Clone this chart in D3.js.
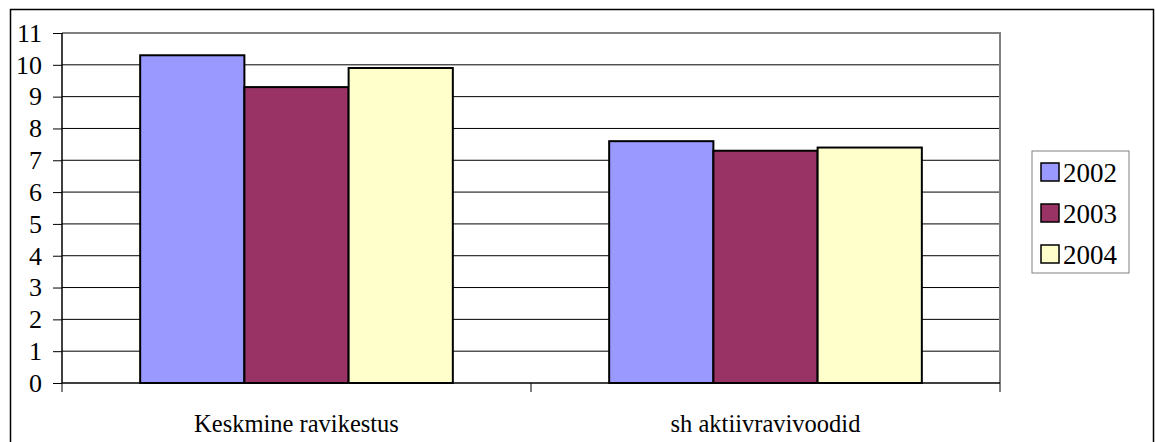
<!DOCTYPE html>
<html>
<head>
<meta charset="utf-8">
<script src="https://cdn.jsdelivr.net/npm/d3@7"></script>
<style>
  body { margin: 0; background: #fff; }
  svg text { font-family: "Liberation Serif", serif; }
</style>
</head>
<body>
<svg id="chart" width="1155" height="442"></svg>
<script>
const categories = ["Keskmine ravikestus", "sh aktiivravivoodid"];
const years = ["2002", "2003", "2004"];
const values2002 = [10.3, 7.6];
const values2003 = [9.3, 7.3];
const values2004 = [9.9, 7.4];
const colors = ["#9999FF", "#993366", "#FFFFCC"];
const yTicks = d3.range(0, 12);

const series = [values2002, values2003, values2004];

const svg = d3.select("#chart");
const margin = { top: 33, right: 155, bottom: 59, left: 62 };
const w = 1155 - margin.left - margin.right;
const h = 442 - margin.top - margin.bottom;

// outer frame
svg.append("rect")
    .attr("x", 10.5).attr("y", 9.5)
    .attr("width", 1143).attr("height", 445)
    .attr("fill", "none").attr("stroke", "#000").attr("stroke-width", 1.5);

const chart = svg.append("g")
    .attr("transform", `translate(${margin.left},${margin.top})`);

const x0 = d3.scaleBand().domain(categories).range([0, w]);
const x1 = d3.scaleBand().domain(years)
    .range([x0.bandwidth() / 6, x0.bandwidth() * 5 / 6]);
const y = d3.scaleLinear().domain([0, 11]).range([h, 0]);

// gridlines
chart.selectAll(".grid")
    .data(yTicks.filter(d => d > 0 && d < 11))
    .enter().append("line")
    .attr("x1", 0).attr("x2", w)
    .attr("y1", d => y(d)).attr("y2", d => y(d))
    .attr("stroke", "#000").attr("stroke-width", 1);

// plot area border (top and right)
chart.append("path")
    .attr("d", `M0,${y(11)}H${w}V${h}`)
    .attr("fill", "none").attr("stroke", "#808080").attr("stroke-width", 2);

// bars
chart.selectAll(".group")
    .data(categories)
    .enter().append("g")
    .attr("transform", d => `translate(${x0(d)},0)`)
    .selectAll("rect")
    .data((d, i) => years.map((yr, j) => ({ yr, v: series[j][i], c: colors[j] })))
    .enter().append("rect")
    .attr("x", d => x1(d.yr))
    .attr("width", x1.bandwidth())
    .attr("y", d => y(d.v))
    .attr("height", d => h - y(d.v))
    .attr("fill", d => d.c)
    .attr("stroke", "#000").attr("stroke-width", 2);

// y axis
const yAxis = chart.append("g")
    .call(d3.axisLeft(y).tickValues(yTicks).tickSize(9).tickPadding(11).tickFormat(d3.format("d")));
yAxis.attr("font-family", null).attr("font-size", 26);
yAxis.select(".domain").attr("stroke", "#000").attr("stroke-width", 1.5).attr("d", `M0,${h}V0`);
yAxis.selectAll(".tick line").attr("stroke", "#000");
yAxis.selectAll("text").attr("fill", "#000");

// x axis
const xAxis = chart.append("g").attr("transform", `translate(0,${h})`);
xAxis.append("line").attr("x1", 0).attr("x2", w).attr("stroke", "#000").attr("stroke-width", 1.5);
xAxis.selectAll(".xt")
    .data([0, x0.bandwidth(), w])
    .enter().append("line")
    .attr("x1", d => d).attr("x2", d => d)
    .attr("y1", 0).attr("y2", 9)
    .attr("stroke", "#000");
xAxis.selectAll(".xl")
    .data(categories)
    .enter().append("text")
    .attr("x", d => x0(d) + x0.bandwidth() / 2)
    .attr("y", 49)
    .attr("text-anchor", "middle")
    .attr("font-size", 24.5)
    .text(d => d);

// legend
const legend = svg.append("g").attr("transform", "translate(1032,151)");
legend.append("rect")
    .attr("width", 97).attr("height", 122)
    .attr("fill", "#fff").attr("stroke", "#808080").attr("stroke-width", 1);
const li = legend.selectAll(".li")
    .data(years)
    .enter().append("g")
    .attr("transform", (d, i) => `translate(9,${21 + i * 41})`);
li.append("rect")
    .attr("x", 0).attr("y", -9)
    .attr("width", 18).attr("height", 18)
    .attr("fill", (d, i) => colors[i])
    .attr("stroke", "#000").attr("stroke-width", 1.5);
li.append("text")
    .attr("x", 22).attr("y", 10)
    .attr("font-size", 27)
    .text(d => d);
</script>
</body>
</html>
